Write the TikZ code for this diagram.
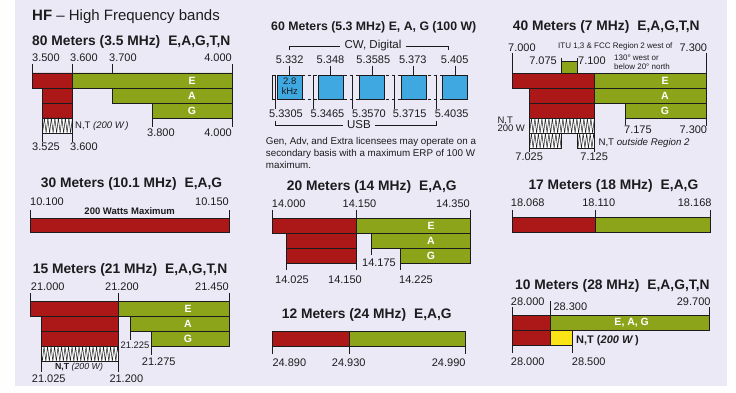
\documentclass[tikz,border=0pt]{standalone}
\usepackage{fontspec}
\setmainfont{Liberation Sans}
\usetikzlibrary{decorations.pathmorphing}

\definecolor{panel}{RGB}{236,233,246}
\definecolor{ink}{RGB}{28,28,30}
\definecolor{bandred}{RGB}{172,24,24}
\definecolor{bandgreen}{RGB}{140,164,26}
\definecolor{chanblue}{RGB}{64,168,224}
\definecolor{ntyellow}{RGB}{250,228,22}

\newcommand{\bandhead}[2]{#1\hspace{8pt}#2}
\newcommand{\nthatch}[4]{%
  \fill[white] (#1,#2) rectangle (#3,#4);
  \begin{scope}
    \clip (#1,#2) rectangle (#3,#4);
    \draw[ink, line width=0.5pt, decorate,
      decoration={zigzag, segment length=3.5pt, amplitude=7.4pt}]
      (#1-2,{(#2+#4)/2}) -- (#3+4,{(#2+#4)/2});
  \end{scope}
  \draw[ink, line width=0.7pt] (#1,#2) rectangle (#3,#4);
}

\begin{document}
\begin{tikzpicture}[x=1pt, y=-1pt,
    redbar/.style={fill=bandred, draw=ink, line width=0.7pt},
    greenbar/.style={fill=bandgreen, draw=ink, line width=0.7pt},
    chanbox/.style={fill=chanblue, draw=ink, line width=0.8pt},
    tick/.style={draw=ink, line width=0.7pt},
    freq/.style={font=\fontsize{11}{12}\selectfont, text=ink, inner sep=0pt},
    head/.style={font=\fontsize{13.8}{15}\selectfont\bfseries, text=ink, inner sep=0pt, anchor=west},
    priv/.style={font=\fontsize{10.5}{12}\selectfont\bfseries, text=white, inner sep=0pt},
    small/.style={font=\fontsize{9.5}{10}\selectfont, text=ink, inner sep=0pt}]
  \useasboundingbox (0,0) rectangle (736,393);
  \fill[white!96!panel] (0,0) rectangle (736,393);
  \fill[panel] (15,0) rectangle (727,386);

  \node (hf) [anchor=west, inner sep=0pt, text=ink, font=\fontsize{15}{17}\selectfont] at (32,17) {\textbf{HF} -- High Frequency bands};

  % 80 meters
  \node (t80) [head] at (32,42) {\bandhead{80 Meters (3.5 MHz)}{E,A,G,T,N}};
  \draw [tick] (32.3,64) -- (32.3,73) (72.3,64) -- (72.3,73) (112,64) -- (112,88) (232,64) -- (232,127)
    (152,118) -- (152,127) (42,133) -- (42,142) (72.3,133) -- (72.3,142);
  \draw [redbar] (32.3,73) rectangle (72.3,88) (42,88) rectangle (72.3,103) (42,103) rectangle (72.3,118);
  \draw [greenbar] (72.3,73) rectangle (232,88) (112,88) rectangle (232,103) (152,103) rectangle (232,118);
  \nthatch{42}{118}{72.3}{133}
  \node (f80a) [freq, anchor=west] at (32,58) {3.500};
  \node (f80b) [freq, anchor=west] at (70,58) {3.600};
  \node (f80c) [freq, anchor=west] at (109,58) {3.700};
  \node (f80d) [freq, anchor=east] at (232,58) {4.000};
  \node (f80e) [freq, anchor=west] at (147,133) {3.800};
  \node (f80f) [freq, anchor=east] at (232,133) {4.000};
  \node (f80g) [freq] at (46,147) {3.525};
  \node (f80h) [freq, anchor=west] at (70,147) {3.600};
  \node (e80) [priv] at (192,80.5) {E};
  \node (a80) [priv] at (192,95.5) {A};
  \node (g80) [priv] at (192,110.5) {G};
  \node (nt80) [small, anchor=west] at (75,126) {N,T \textit{(200 W\,)}};

  % 60 meters
  \node (t60) [head, font=\fontsize{12.3}{14}\selectfont\bfseries] at (271,27) {60 Meters (5.3 MHz) E, A, G (100 W)};
  \node (cw) [inner xsep=4pt, inner ysep=0pt, text=ink, font=\fontsize{11.5}{12}\selectfont] at (373,46) {CW, Digital};
  \draw [tick] (289,50) -- (289,46) -- (cw.west) (cw.east) -- (448,46) -- (448,50);
  \draw [ink, line width=0.6pt, dashed] (272,75) -- (469,75) (272,99) -- (469,99);
  \draw [tick] (272,75) -- (272,99);
  \foreach \u in {275,313.3,352.3,394.3,436.7}
    \draw [tick] (\u,75) -- (\u,109);
  \foreach \c in {289.8,330.8,372,413.7,455} {
    \draw [tick] (\c,65.7) -- (\c,75);
    \draw [chanbox] (\c-12.8,75) rectangle (\c+12.8,99);
  }
  \node (c60a) [freq] at (289.7,60) {5.332};
  \node (c60b) [freq] at (330.5,60) {5.348};
  \node (c60c) [freq] at (373.3,60) {5.3585};
  \node (c60d) [freq] at (412.8,60) {5.373};
  \node (c60e) [freq] at (454.7,60) {5.405};
  \node (bw60) [inner sep=0pt, text=ink, align=center, font=\fontsize{9.5}{9.7}\selectfont] at (289.8,86.5) {2.8\\kHz};
  \node (u60a) [freq] at (286,114) {5.3305};
  \node (u60b) [freq] at (327.5,114) {5.3465};
  \node (u60c) [freq] at (369,114) {5.3570};
  \node (u60d) [freq] at (409.7,114) {5.3715};
  \node (u60e) [freq] at (451.7,114) {5.4035};
  \node (usb) [inner xsep=4pt, inner ysep=0pt, text=ink, font=\fontsize{11.5}{12}\selectfont] at (359,125) {USB};
  \draw [tick] (275,121) -- (275,125) -- (usb.west) (usb.east) -- (436.7,125) -- (436.7,121);
  \node (rule60) [anchor=north west, align=left, inner sep=0pt, text=ink, font=\fontsize{9.8}{12}\selectfont] at (265.7,137.5)
    {Gen, Adv, and Extra licensees may operate on a\\secondary basis with a maximum ERP of 100 W\\maximum.};

  % 40 meters
  \node (t40) [head] at (512.7,27) {\bandhead{40 Meters (7 MHz)}{E,A,G,T,N}};
  \node (itu) [anchor=west, inner sep=0pt, text=ink, font=\fontsize{8}{9.4}\selectfont] at (558,46.7) {ITU 1,3 \& FCC Region 2 west of};
  \node (itub) [anchor=north west, align=left, inner sep=0pt, text=ink, font=\fontsize{8}{9.4}\selectfont] at (614,54.5) {130° west or\\below 20° north};
  \draw [tick] (512.7,53) -- (512.7,73.3) (706,53) -- (706,126) (561.7,58) -- (561.7,73.3) (577.3,58) -- (577.3,73.3)
    (625,118.3) -- (625,125) (529,148.3) -- (529,152) (594,148.3) -- (594,152);
  \draw [greenbar] (561.7,61) rectangle (577.3,73.3);
  \draw [redbar] (512.7,73.3) rectangle (594,88.3) (529,88.3) rectangle (594,103.3) (529,103.3) rectangle (594,118.3);
  \draw [greenbar] (594,73.3) rectangle (706,88.3) (594,88.3) rectangle (706,103.3) (625,103.3) rectangle (706,118.3);
  \nthatch{529}{118.3}{594}{133.3}
  \nthatch{529}{133.3}{561.7}{148.3}
  \nthatch{577.3}{133.3}{594}{148.3}
  \node (f40a) [freq, anchor=west] at (508,47.3) {7.000};
  \node (f40b) [freq, anchor=east] at (707.3,47.3) {7.300};
  \node (f40c) [freq, anchor=east] at (557,60.7) {7.075};
  \node (f40d) [freq, anchor=west] at (578,60.7) {7.100};
  \node (f40e) [freq, anchor=west] at (624,130) {7.175};
  \node (f40f) [freq, anchor=east] at (707.3,130) {7.300};
  \node (f40g) [freq] at (529.2,157) {7.025};
  \node (f40h) [freq] at (594.2,157) {7.125};
  \node (e40) [priv] at (665,80.8) {E};
  \node (a40) [priv] at (665,95.8) {A};
  \node (g40) [priv] at (665,110.8) {G};
  \node (nt40a) [small, anchor=west] at (497.3,120.5) {N,T};
  \node (nt40b) [small, anchor=west] at (497.3,128.5) {200 W};
  \node (nt40c) [small, anchor=west, font=\fontsize{9.7}{10}\selectfont] at (598.3,142.7) {N,T \textit{outside Region 2}};

  % 30 meters
  \node (t30) [head] at (40.7,184) {\bandhead{30 Meters (10.1 MHz)}{E,A,G}};
  \draw [tick] (30.7,210) -- (30.7,218.3) (229,210) -- (229,218.3);
  \draw [redbar] (30.7,218.3) rectangle (229,232.7);
  \node (f30a) [freq, anchor=west] at (30,201.7) {10.100};
  \node (f30b) [freq, anchor=east] at (229,201.7) {10.150};
  \node (max30) [inner sep=0pt, text=ink, font=\fontsize{9.5}{10}\selectfont\bfseries] at (129.7,210.7) {200 Watts Maximum};

  % 20 meters
  \node (t20) [head] at (286.7,186.7) {\bandhead{20 Meters (14 MHz)}{E,A,G}};
  \draw [tick] (272.3,210) -- (272.3,218.3) (356.7,210) -- (356.7,218.3) (470,210) -- (470,218.3)
    (371.7,248.3) -- (371.7,255) (286.7,263.3) -- (286.7,270) (356.7,263.3) -- (356.7,270) (400,263.3) -- (400,270);
  \draw [redbar] (272.3,218.3) rectangle (356.7,233.3) (286.7,233.3) rectangle (356.7,248.3) (286.7,248.3) rectangle (356.7,263.3);
  \draw [greenbar] (356.7,218.3) rectangle (470,233.3) (371.7,233.3) rectangle (470,248.3) (400,248.3) rectangle (470,263.3);
  \node (f20a) [freq, anchor=west] at (271.7,203.3) {14.000};
  \node (f20b) [freq] at (359.5,203.3) {14.150};
  \node (f20c) [freq, anchor=east] at (470,203.3) {14.350};
  \node (f20d) [freq] at (379,262.3) {14.175};
  \node (f20e) [freq] at (292,279.3) {14.025};
  \node (f20f) [freq] at (345,279.3) {14.150};
  \node (f20g) [freq, anchor=west] at (399,279.3) {14.225};
  \node (e20) [priv] at (431,225.8) {E};
  \node (a20) [priv] at (431,240.8) {A};
  \node (g20) [priv] at (431,255.8) {G};

  % 17 meters
  \node (t17) [head] at (528.3,186) {\bandhead{17 Meters (18 MHz)}{E,A,G}};
  \draw [tick] (512.7,210) -- (512.7,217.3) (595.7,210) -- (595.7,217.3) (710.7,210) -- (710.7,217.3);
  \draw [redbar] (512.7,217.3) rectangle (595.7,232.3);
  \draw [greenbar] (595.7,217.3) rectangle (710.7,232.3);
  \node (f17a) [freq, anchor=west] at (510.7,202.7) {18.068};
  \node (f17b) [freq] at (598.7,202.7) {18.110};
  \node (f17c) [freq, anchor=east] at (711.7,202.7) {18.168};

  % 15 meters
  \node (t15) [head] at (32.7,270) {\bandhead{15 Meters (21 MHz)}{E,A,G,T,N}};
  \draw [tick] (30.7,293) -- (30.7,301.7) (118.3,293) -- (118.3,301.7) (229,293) -- (229,301.7)
    (130,331.7) -- (130,340) (151.7,346.7) -- (151.7,355) (41.7,361) -- (41.7,372) (118.3,361) -- (118.3,372);
  \draw [redbar] (30.7,301.7) rectangle (118.3,316.7) (41.7,316.7) rectangle (118.3,331.7) (41.7,331.7) rectangle (118.3,346.7);
  \draw [greenbar] (118.3,301.7) rectangle (229,316.7) (130,316.7) rectangle (229,331.7) (151.7,331.7) rectangle (229,346.7);
  \nthatch{41.7}{346.7}{118.3}{361}
  \node (f15a) [freq, anchor=west] at (30.7,286.7) {21.000};
  \node (f15b) [freq] at (122,286.7) {21.200};
  \node (f15c) [freq, anchor=east] at (229,286.7) {21.450};
  \node (f15d) [freq, font=\fontsize{9.4}{10}\selectfont] at (135,345.7) {21.225};
  \node (f15e) [freq, anchor=west] at (141.7,361.7) {21.275};
  \node (f15f) [freq, anchor=west] at (31.7,379) {21.025};
  \node (f15g) [freq, anchor=west] at (109.3,379) {21.200};
  \node (e15) [priv] at (188,309.2) {E};
  \node (a15) [priv] at (188,324.2) {A};
  \node (g15) [priv] at (188,339.2) {G};
  \node (nt15) [inner sep=0pt, text=ink, font=\fontsize{8.8}{10}\selectfont] at (79,367.5) {\textbf{N,T} \textit{(200 W)}};

  % 12 meters
  \node (t12) [head] at (281.7,315) {\bandhead{12 Meters (24 MHz)}{E,A,G}};
  \draw [tick] (272.3,346) -- (272.3,354.3) (349.3,346) -- (349.3,354.3) (465,346) -- (465,354.3);
  \draw [redbar] (272.3,331.7) rectangle (349.3,346);
  \draw [greenbar] (349.3,331.7) rectangle (465,346);
  \node (f12a) [freq, anchor=west] at (272.3,362.3) {24.890};
  \node (f12b) [freq, anchor=west] at (331.7,362.3) {24.930};
  \node (f12c) [freq, anchor=east] at (465.7,362.3) {24.990};

  % 10 meters
  \node (t10) [head] at (515,285.7) {\bandhead{10 Meters (28 MHz)}{E,A,G,T,N}};
  \draw [tick] (512.3,307) -- (512.3,315.7) (550.7,301) -- (550.7,315.7) (709.3,307) -- (709.3,315.7)
    (512.3,345) -- (512.3,353.3) (572.3,345) -- (572.3,353.3);
  \draw [redbar] (512.3,315.7) rectangle (550.7,330.3) (512.3,330.3) rectangle (550.7,345);
  \draw [greenbar] (550.7,315.7) rectangle (709.3,330.3);
  \draw [fill=ntyellow, draw=ink, line width=0.7pt] (550.7,330.3) rectangle (572.3,345);
  \node (f10a) [freq, anchor=west] at (510.7,301.7) {28.000};
  \node (f10b) [freq, anchor=west] at (553.3,306.7) {28.300};
  \node (f10c) [freq, anchor=east] at (710.7,301.7) {29.700};
  \node (f10d) [freq, anchor=west] at (510.7,361.7) {28.000};
  \node (f10e) [freq, anchor=west] at (571.7,361.7) {28.500};
  \node (eag10) [priv] at (631.7,323) {E, A, G};
  \node (nt10) [inner sep=0pt, text=ink, anchor=west, font=\fontsize{11}{12}\selectfont\bfseries] at (576,341) {N,T (\textit{200 W}\,)};
\end{tikzpicture}
\end{document}
